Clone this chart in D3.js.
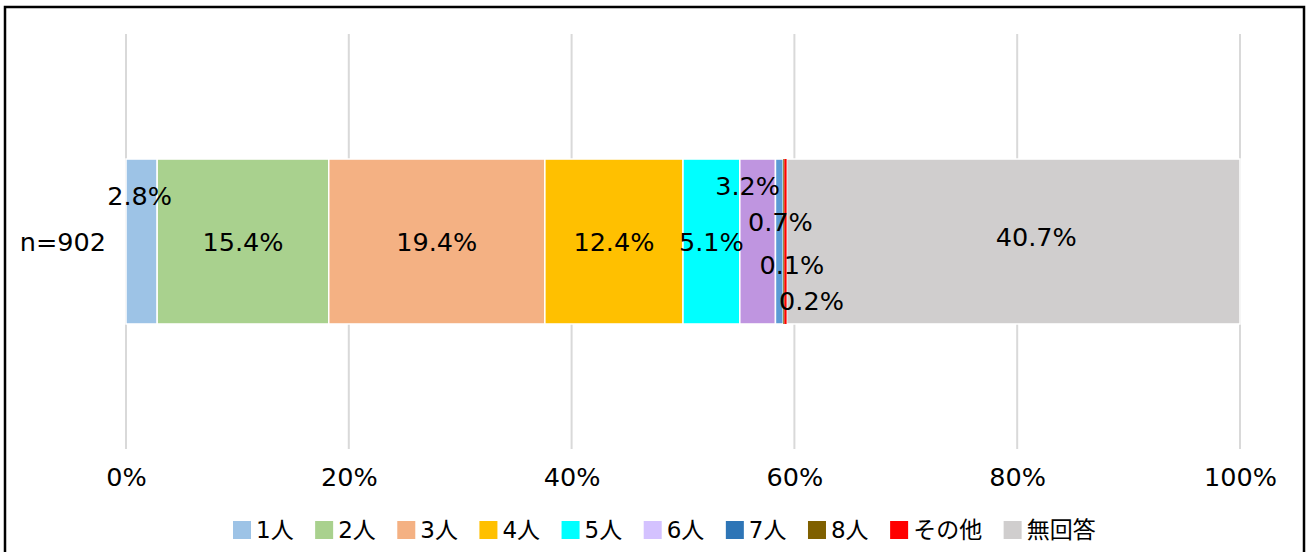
<!DOCTYPE html>
<html>
<head>
<meta charset="utf-8">
<script src="https://cdn.jsdelivr.net/npm/d3@7"></script>
<style>
  body { margin: 0; background: #fff; }
  text { font-family: "DejaVu Sans", sans-serif; }
</style>
</head>
<body>
<script>
var width = 1307;
var height = 552;

// data
var categories = ["1人", "2人", "3人", "4人", "5人", "6人", "7人", "8人", "その他", "無回答"];
var values = [2.8, 15.4, 19.4, 12.4, 5.1, 3.2, 0.7, 0.1, 0.2, 40.7];
var rowLabel = "n=902";
var ticks = [0, 20, 40, 60, 80, 100];

var barColors = ["#9DC3E6", "#A9D18E", "#F4B183", "#FFC000", "#00FFFF", "#BF95E0", "#5B9BD5", "#7F6000", "#FF0000", "#D0CECE"];
var legendColors = ["#9DC3E6", "#A9D18E", "#F4B183", "#FFC000", "#00FFFF", "#D4C2FF", "#2E75B6", "#7F6000", "#FF0000", "#D0CECE"];

// label nudges (the small ones are pushed around so they don't overlap)
var labelDx = [-2, 0, 0, 0, 0, -10, 1, 8, 26, 23];
var labelDy = [-46, 0, 0, 0, 0, -56, -20, 23, 59, -5];

var svg = d3.select("body").append("svg")
    .attr("width", width)
    .attr("height", height);

svg.append("rect")
    .attr("width", width)
    .attr("height", height)
    .attr("fill", "#fff");

// frame
svg.append("path")
    .attr("d", "M5,560 L5,7 L1304,7 L1304,560")
    .attr("fill", "none")
    .attr("stroke", "#000")
    .attr("stroke-width", 2.5);

var x = d3.scaleLinear().domain([0, 100]).range([126, 1240]);
var y = d3.scaleBand().domain([rowLabel]).range([34, 449]).paddingInner(0).paddingOuter(0.758);

//grid lines
svg.append("g").selectAll("line").data(ticks)
    .enter().append("line")
    .attr("x1", function(d) { return x(d); })
    .attr("x2", function(d) { return x(d); })
    .attr("y1", 34)
    .attr("y2", 449)
    .attr("stroke", "#D9D9D9")
    .attr("stroke-width", 2);

// x axis labels
var xAxis = d3.axisBottom(x).tickValues(ticks).tickSize(0).tickPadding(0).tickFormat(function(d) { return d + "%"; });
var ax = svg.append("g")
    .attr("transform", "translate(0,477)")
    .call(xAxis);
ax.select(".domain").remove();
ax.selectAll("text")
    .attr("fill", "#000")
    .attr("y", 0)
    .attr("dy", "0.36em")
    .style("font-size", "25.5px")
    .style("font-family", "DejaVu Sans, sans-serif");

// stack
var starts = [];
var acc = 0;
values.forEach(function(v) { starts.push(acc); acc += v; });

var segData = values.map(function(v, i) { return {v: v, i: i}; });
// draw wide segments first, the tiny ones on top without border
segData.sort(function(a, b) { return (a.v < 0.5) - (b.v < 0.5); });

svg.append("g").selectAll("rect").data(segData)
    .enter().append("rect")
    .attr("x", function(d) { return x(starts[d.i]); })
    .attr("width", function(d) { return x(d.v) - x(0); })
    .attr("y", y(rowLabel))
    .attr("height", y.bandwidth())
    .attr("fill", function(d) { return barColors[d.i]; })
    .attr("stroke", function(d) { return d.v < 0.5 ? "none" : "#fff"; })
    .attr("stroke-width", 1.5);

svg.append("g").selectAll("text").data(values)
    .enter().append("text")
    .attr("x", function(d, i) { return x(starts[i] + d / 2) + labelDx[i]; })
    .attr("y", function(d, i) { return y(rowLabel) + y.bandwidth() / 2 + labelDy[i]; })
    .attr("text-anchor", "middle")
    .attr("dominant-baseline", "central")
    .style("font-size", "25.5px")
    .text(function(d) { return d.toFixed(1) + "%"; });

// row label
svg.append("text")
    .attr("x", 106)
    .attr("y", y(rowLabel) + y.bandwidth() / 2)
    .attr("text-anchor", "end")
    .attr("dominant-baseline", "central")
    .style("font-size", "25.5px")
    .text(rowLabel);

// legend
var legend = svg.append("g").attr("transform", "translate(233,530)");
var lx = 0;
categories.forEach(function(c, i) {
    var g = legend.append("g").attr("transform", "translate(" + lx + ",0)");
    g.append("rect")
        .attr("x", 0)
        .attr("y", -9)
        .attr("width", 18)
        .attr("height", 18)
        .attr("fill", legendColors[i]);
    var t = g.append("text")
        .attr("x", 23)
        .attr("y", 0)
        .attr("dominant-baseline", "central")
        .style("font-family", "'DejaVu Sans', 'Noto Sans CJK JP', sans-serif")
        .style("font-size", "23px")
        .text(c);
    lx += 23 + t.node().getComputedTextLength() + 21.5;
});
</script>
</body>
</html>
